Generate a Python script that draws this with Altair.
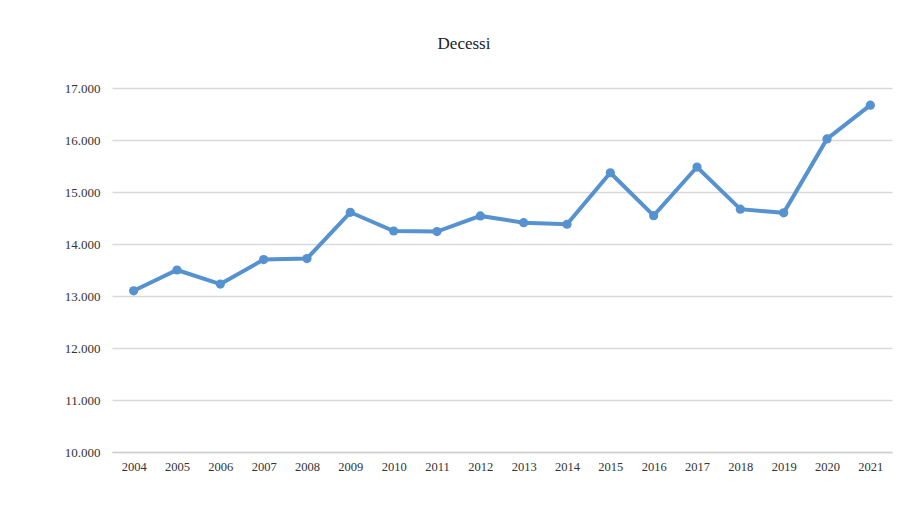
import altair as alt
import pandas as pd

years = [str(y) for y in range(2004, 2022)]
decessi = [13100, 13500, 13230, 13700, 13720, 14610, 14250, 14240, 14540,
           14410, 14380, 15370, 14545, 15480, 14670, 14600, 16020, 16670]

df = pd.DataFrame({"anno": years, "decessi": decessi})

blue = "#5592cf"
fmt = "replace(format(datum.value, ','), ',', '.')"

base = alt.Chart(df).encode(
    x=alt.X("anno:N", sort=years, title=None,
            scale=alt.Scale(paddingInner=0, paddingOuter=0.5),
            axis=alt.Axis(labelAngle=0, ticks=False, grid=False, domain=True, domainColor="#d0d0d0",
                          domainWidth=1.5, labelPadding=8, labelFont="Liberation Serif",
                          labelFontSize=12.5, labelColor="#333333")),
    y=alt.Y("decessi:Q", title=None,
            scale=alt.Scale(domain=[10000, 17000], nice=False, zero=False),
            axis=alt.Axis(values=list(range(10000, 17001, 1000)), labelExpr=fmt,
                          ticks=False, domain=False, gridColor="#d9d9d9", gridWidth=1.5,
                          labelPadding=12, labelFont="Liberation Serif", labelFontSize=13,
                          labelColor="#333333")),
)

line = base.mark_line(color=blue, strokeWidth=4)
pts = base.mark_circle(color=blue, size=85, opacity=1)

chart = (line + pts).properties(
    width=780, height=364,
    background="white",
    autosize=alt.AutoSizeParams(type="none"),
    padding={"left": 112, "top": 88, "right": 12, "bottom": 58},
    title=alt.TitleParams("Decessi", font="Liberation Serif", fontSize=17, fontWeight="normal",
                          color="#222222", anchor="middle", dx=-38, offset=29),
).configure_view(strokeWidth=0)

chart.save("out.html", embed_options={"renderer": "svg", "actions": False})
